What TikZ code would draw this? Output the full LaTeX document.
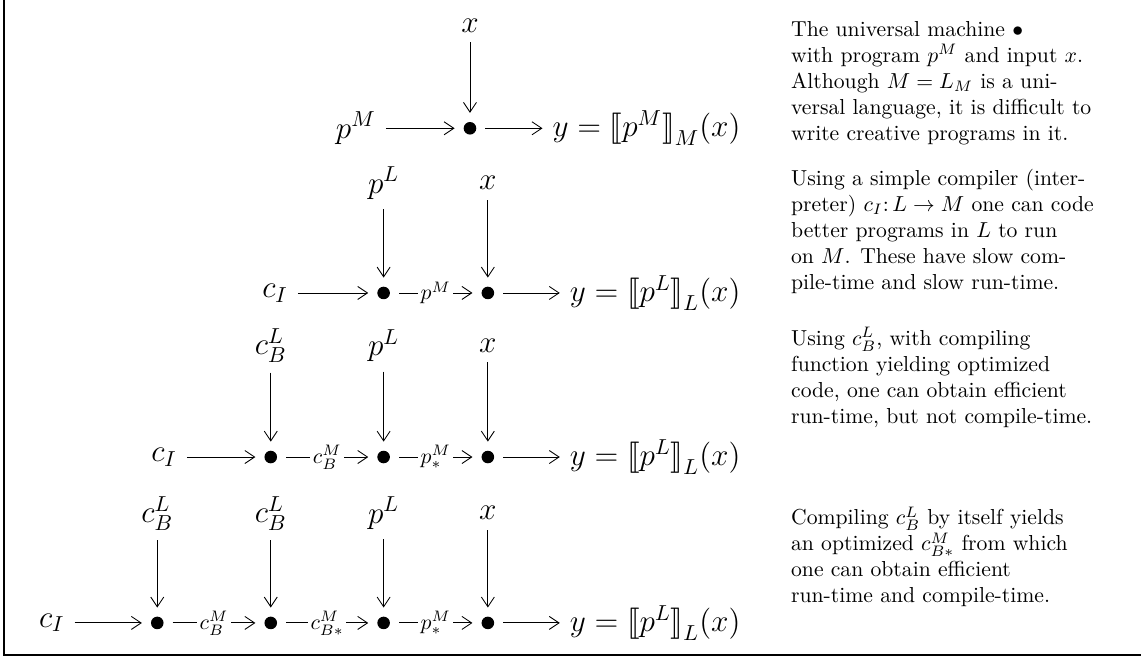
\documentclass[tikz,border=0pt]{standalone}
\usepackage{stmaryrd}
\usetikzlibrary{arrows.meta}
\tikzset{
    bul/.style={circle, fill, inner sep=0pt, minimum size=5.8pt, outer sep=4.2pt},
    lab/.style={font=\Large, inner sep=4.5pt},
    res/.style={font=\Large, inner sep=4.5pt, anchor=east},
    ar/.style={-{Straight Barb[length=4.5pt,width=6pt]}},
    elab/.style={fill=white, inner sep=1.2pt, font=\normalsize},
    note/.style={anchor=west, align=left, inner sep=0pt, font=\normalsize}
}
\begin{document}
\begin{tikzpicture}
    \useasboundingbox (0,0) rectangle (18.50,10.67);
    % Draw the frame
    \draw[line width=0.8pt] (0.065,0.05) rectangle (19,11);

% first row: the universal machine
\node at (5.77,8.59) [lab] (P1) {$p^M$};
\node at (7.62,8.59) [bul] (B11) {};
\node at (7.62,10.26) [lab] (X1) {$x$};
\node at (12.17,8.59) [res] (Y1) {$y = {\llbracket p^M \rrbracket}_M(x)$};
\draw[ar] (X1) -- (B11);
\draw[ar] (P1) -- (B11);
\draw[ar] (B11) -- (Y1);

% second row: simple compiler
\node at (4.46,5.92) [lab] (C2) {$c_I$};
\node at (6.22,5.92) [bul] (B21) {};
\node at (7.91,5.92) [bul] (B22) {};
\node at (6.22,7.70) [lab] (P2) {$p^L$};
\node at (7.91,7.70) [lab] (X2) {$x$};
\node at (12.17,5.92) [res] (Y2) {$y = {\llbracket p^L \rrbracket}_L(x)$};
\draw[ar] (P2) -- (B21);
\draw[ar] (X2) -- (B22);
\draw[ar] (C2) -- (B21);
\draw[ar] (B21) -- node[elab] {$p^M$} (B22);
\draw[ar] (B22) -- (Y2);

% third row: optimizing compiler
\node at (2.66,3.26) [lab] (C3) {$c_I$};
\node at (4.39,3.26) [bul] (B31) {};
\node at (6.22,3.26) [bul] (B32) {};
\node at (7.91,3.26) [bul] (B33) {};
\node at (4.39,5.07) [lab] (K3) {$c^L_B$};
\node at (6.22,5.07) [lab] (P3) {$p^L$};
\node at (7.91,5.07) [lab] (X3) {$x$};
\node at (12.17,3.26) [res] (Y3) {$y = {\llbracket p^L \rrbracket}_L(x)$};
\draw[ar] (K3) -- (B31);
\draw[ar] (P3) -- (B32);
\draw[ar] (X3) -- (B33);
\draw[ar] (C3) -- (B31);
\draw[ar] (B31) -- node[elab] {$c^M_B$} (B32);
\draw[ar] (B32) -- node[elab] {$p^M_*$} (B33);
\draw[ar] (B33) -- (Y3);

% fourth row: compiler compiled by itself
\node at (0.84,0.57) [lab] (C4) {$c_I$};
\node at (2.55,0.57) [bul] (B41) {};
\node at (4.39,0.57) [bul] (B42) {};
\node at (6.22,0.57) [bul] (B43) {};
\node at (7.91,0.57) [bul] (B44) {};
\node at (2.55,2.35) [lab] (K41) {$c^L_B$};
\node at (4.39,2.35) [lab] (K42) {$c^L_B$};
\node at (6.22,2.35) [lab] (P4) {$p^L$};
\node at (7.91,2.35) [lab] (X4) {$x$};
\node at (12.17,0.57) [res] (Y4) {$y = {\llbracket p^L \rrbracket}_L(x)$};
\draw[ar] (K41) -- (B41);
\draw[ar] (K42) -- (B42);
\draw[ar] (P4) -- (B43);
\draw[ar] (X4) -- (B44);
\draw[ar] (C4) -- (B41);
\draw[ar] (B41) -- node[elab] {$c^M_B$} (B42);
\draw[ar] (B42) -- node[elab] {$c^M_{B*}$} (B43);
\draw[ar] (B43) -- node[elab] {$p^M_*$} (B44);
\draw[ar] (B44) -- (Y4);

% the notes on the right
\node at (12.82,9.32) [note] (N1) {The universal machine $\bullet$\\
    with program $p^M$ and input $x$.\\
    Although $M = L_M$ is a uni-\\
    versal language, it is difficult to\\
    write creative programs in it.};
\node at (12.82,6.92) [note] (N2) {Using a simple compiler (inter-\\
    preter) $c_I\colon L \to M$ one can code\\
    better programs in $L$ to run\\
    on $M$. These have slow com-\\
    pile-time and slow run-time.};
\node at (12.82,4.55) [note] (N3) {Using $c^L_B$, with compiling\\
    function yielding optimized\\
    code, one can obtain efficient\\
    run-time, but not compile-time.};
\node at (12.82,1.64) [note] (N4) {Compiling $c^L_B$ by itself yields\\
    an optimized $c^M_{B*}$ from which\\
    one can obtain efficient\\
    run-time and compile-time.};

\end{tikzpicture}
\end{document}
